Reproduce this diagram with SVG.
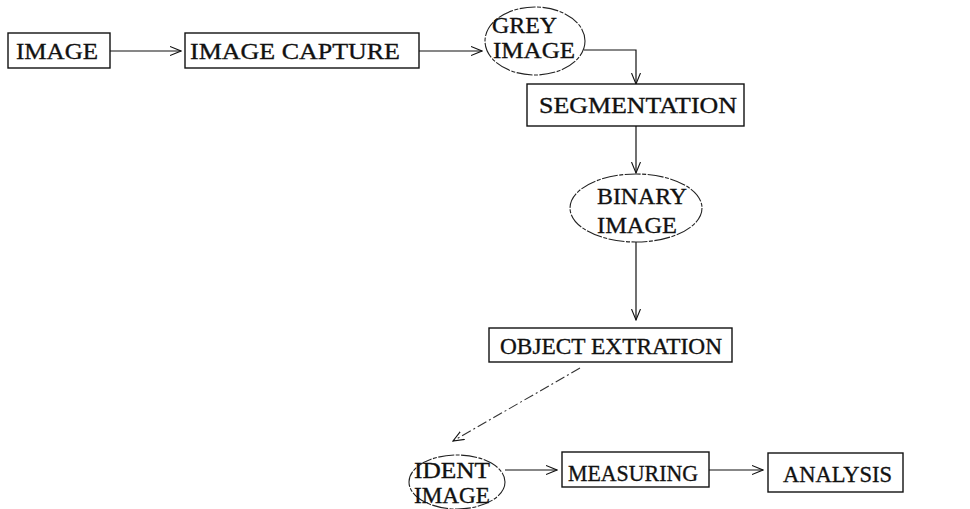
<svg xmlns="http://www.w3.org/2000/svg" width="970" height="509" viewBox="0 0 970 509">
  <style>
    .box { fill: #fff; stroke: #111; stroke-width: 1.4; }
    .oval { fill: #fff; stroke: #222; stroke-width: 1.1; stroke-dasharray: 16 1.5 4 1.5; }
    .lbl { font-family: "Liberation Serif", "Times New Roman", serif; font-size: 24px; fill: #111; stroke: #111; stroke-width: 0.35; }
    .wire { fill: none; stroke: #111; stroke-width: 1.2; }
    .dash { fill: none; stroke: #333; stroke-width: 1.1; stroke-dasharray: 10 3 2 3; }
  </style>
  <defs>
    <marker id="head" viewBox="0 0 12 10" refX="11" refY="5" markerWidth="12" markerHeight="10" markerUnits="userSpaceOnUse" orient="auto">
      <path d="M0,0.5 L11,5 L0,9.5" fill="none" stroke="#111" stroke-width="1.1"/>
    </marker>
  </defs>

  <!-- connectors -->
  <g id="connectors">
    <line class="wire" x1="110" y1="51" x2="181" y2="51" marker-end="url(#head)"/>
    <line class="wire" x1="419" y1="51" x2="482" y2="51" marker-end="url(#head)"/>
    <polyline class="wire" points="584,50 636,50 636,84" marker-end="url(#head)"/>
    <line class="wire" x1="636" y1="126" x2="636" y2="173" marker-end="url(#head)"/>
    <line class="wire" x1="636" y1="242" x2="636" y2="320" marker-end="url(#head)"/>
    <line class="dash" x1="580" y1="368" x2="453" y2="441" marker-end="url(#head)"/>
    <line class="wire" x1="505" y1="470" x2="557" y2="470" marker-end="url(#head)"/>
    <line class="wire" x1="709" y1="470" x2="763" y2="470" marker-end="url(#head)"/>
  </g>

  <g id="image">
    <rect class="box" x="8" y="33" width="102" height="35"/>
    <text class="lbl" x="16" y="59" textLength="82" lengthAdjust="spacingAndGlyphs">IMAGE</text>
  </g>
  <g id="image-capture">
    <rect class="box" x="185" y="33" width="234" height="35"/>
    <text class="lbl" x="190" y="59" textLength="210" lengthAdjust="spacingAndGlyphs">IMAGE CAPTURE</text>
  </g>
  <g id="grey-image">
    <ellipse class="oval" cx="535" cy="41" rx="50" ry="34"/>
    <text class="lbl" x="492" y="33" textLength="65" lengthAdjust="spacingAndGlyphs">GREY</text>
    <text class="lbl" x="493" y="58" textLength="82" lengthAdjust="spacingAndGlyphs">IMAGE</text>
  </g>
  <g id="segmentation">
    <rect class="box" x="527" y="84" width="217" height="42"/>
    <text class="lbl" x="539" y="113" textLength="198" lengthAdjust="spacingAndGlyphs">SEGMENTATION</text>
  </g>
  <g id="binary-image">
    <ellipse class="oval" cx="636" cy="208" rx="66" ry="34"/>
    <text class="lbl" x="597" y="204" textLength="90" lengthAdjust="spacingAndGlyphs">BINARY</text>
    <text class="lbl" x="597" y="233" textLength="80" lengthAdjust="spacingAndGlyphs">IMAGE</text>
  </g>
  <g id="object-extration">
    <rect class="box" x="489" y="328" width="243" height="34"/>
    <text class="lbl" x="500" y="354" textLength="222" lengthAdjust="spacingAndGlyphs">OBJECT EXTRATION</text>
  </g>
  <g id="ident-image">
    <ellipse class="oval" cx="457" cy="482" rx="48" ry="27"/>
    <text class="lbl" x="414" y="478" textLength="76" lengthAdjust="spacingAndGlyphs">IDENT</text>
    <text class="lbl" x="414" y="503" textLength="76" lengthAdjust="spacingAndGlyphs">IMAGE</text>
  </g>
  <g id="measuring">
    <rect class="box" x="562" y="452" width="147" height="35"/>
    <text class="lbl" x="568" y="481" textLength="130" lengthAdjust="spacingAndGlyphs">MEASURING</text>
  </g>
  <g id="analysis">
    <rect class="box" x="768" y="453" width="135" height="39"/>
    <text class="lbl" x="783" y="482" textLength="109" lengthAdjust="spacingAndGlyphs">ANALYSIS</text>
  </g>
</svg>
